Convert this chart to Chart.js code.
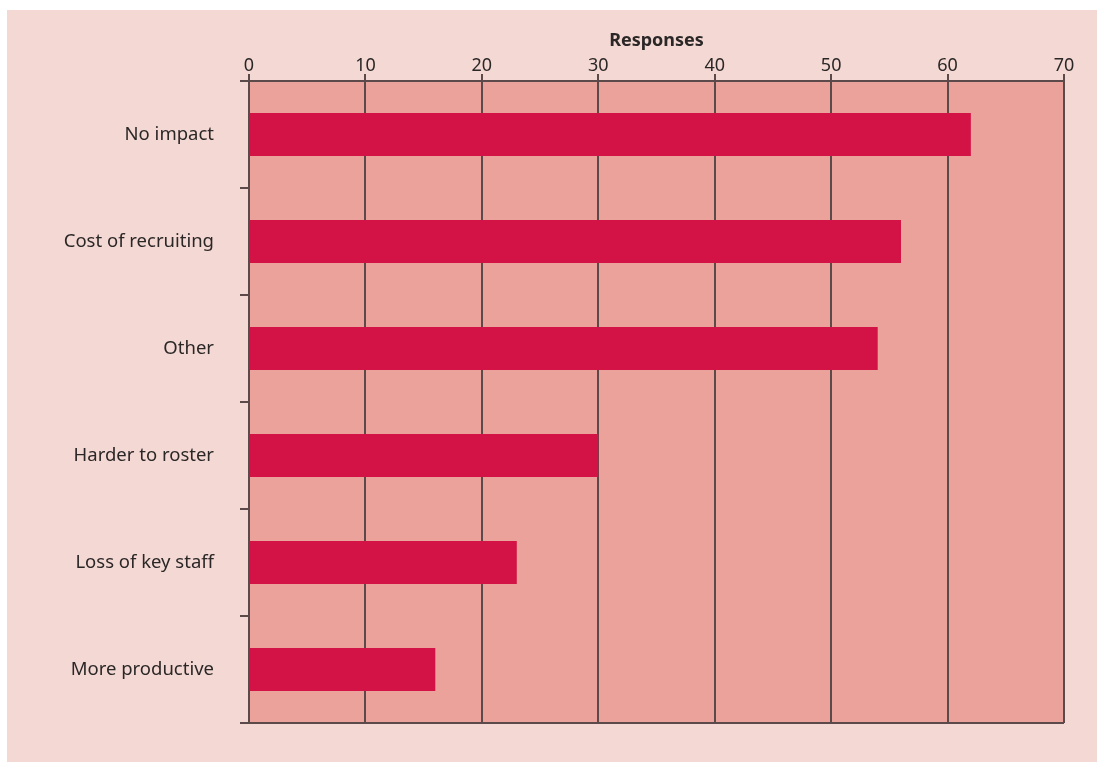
<!DOCTYPE html>
<html>
<head>
<meta charset="utf-8">
<script src="https://cdn.jsdelivr.net/npm/chart.js@4/dist/chart.umd.min.js"></script>
<style>
  html, body { margin: 0; padding: 0; background: #ffffff; }
  #wrap { width: 1097px; height: 762px; position: relative; }
</style>
</head>
<body>
<div id="wrap"><canvas id="responsesChart" width="1097" height="762"></canvas></div>
<script>
// survey answers, top to bottom
const categories = ['No impact', 'Cost of recruiting', 'Other', 'Harder to roster', 'Loss of key staff', 'More productive'];
const responses = [62, 56, 54, 30, 23, 16];
const axisMin = 0;
const axisMax = 70;
const axisStep = 10;

const LINE = '#5b4a49';
const TEXT = '#2b2727';

// pink card behind the whole chart, and the darker plot box
const backdrop = {
    id: 'backdrop',
    beforeDraw(chart) {
        const c = chart.ctx;
        const a = chart.chartArea;
        c.save();
        c.fillStyle = '#f4d8d3';
        c.fillRect(7, 10, chart.width - 7, chart.height - 10);
        c.fillStyle = '#eaa29b';
        c.fillRect(a.left, a.top, a.right - a.left, a.bottom - a.top);
        c.restore();
    }
};

new Chart(document.getElementById('responsesChart'), {
    type: 'bar',
    data: {
        labels: categories,
        datasets: [{
            label: 'Responses',
            data: responses,
            backgroundColor: '#d31245',
            borderWidth: 0,
            categoryPercentage: 0.4,
            barPercentage: 1.0
        }]
    },
    options: {
        indexAxis: 'y',
        responsive: false,
        animation: false,
        layout: { padding: { left: 0, top: 0, right: 33, bottom: 39 } },
        plugins: {
            legend: { display: false },
            tooltip: { enabled: false }
        },
        scales: {
            x: {
                position: 'top',
                min: axisMin,
                max: axisMax,
                afterFit: (scale) => { scale.height = 81; },
                ticks: {
                    stepSize: axisStep,
                    color: TEXT,
                    padding: -3,
                    font: { family: 'Noto Sans', size: 18 }
                },
                grid: {
                    color: LINE,
                    lineWidth: 2,
                    tickLength: 7,
                    tickColor: LINE
                },
                border: { display: true, color: LINE, width: 2 },
                title: {
                    display: true,
                    text: 'Responses',
                    color: TEXT,
                    padding: { top: 30, bottom: 0 },
                    font: { family: 'Noto Sans', size: 18, weight: 'bold' }
                }
            },
            y: {
                afterFit: (scale) => { scale.width = 249; },
                ticks: {
                    color: TEXT,
                    padding: 26,
                    font: { family: 'Noto Sans', size: 18.5 }
                },
                grid: {
                    offset: true,
                    lineWidth: 2,
                    tickLength: 9,
                    tickColor: LINE,
                    // only the outer boundaries cross the plot; inner ones stay as ticks
                    color: (ctx) => (ctx.index === 0 || ctx.index === undefined) ? LINE : 'rgba(0,0,0,0)'
                },
                border: { display: true, color: LINE, width: 2 }
            }
        }
    },
    plugins: [backdrop]
});
</script>
</body>
</html>
